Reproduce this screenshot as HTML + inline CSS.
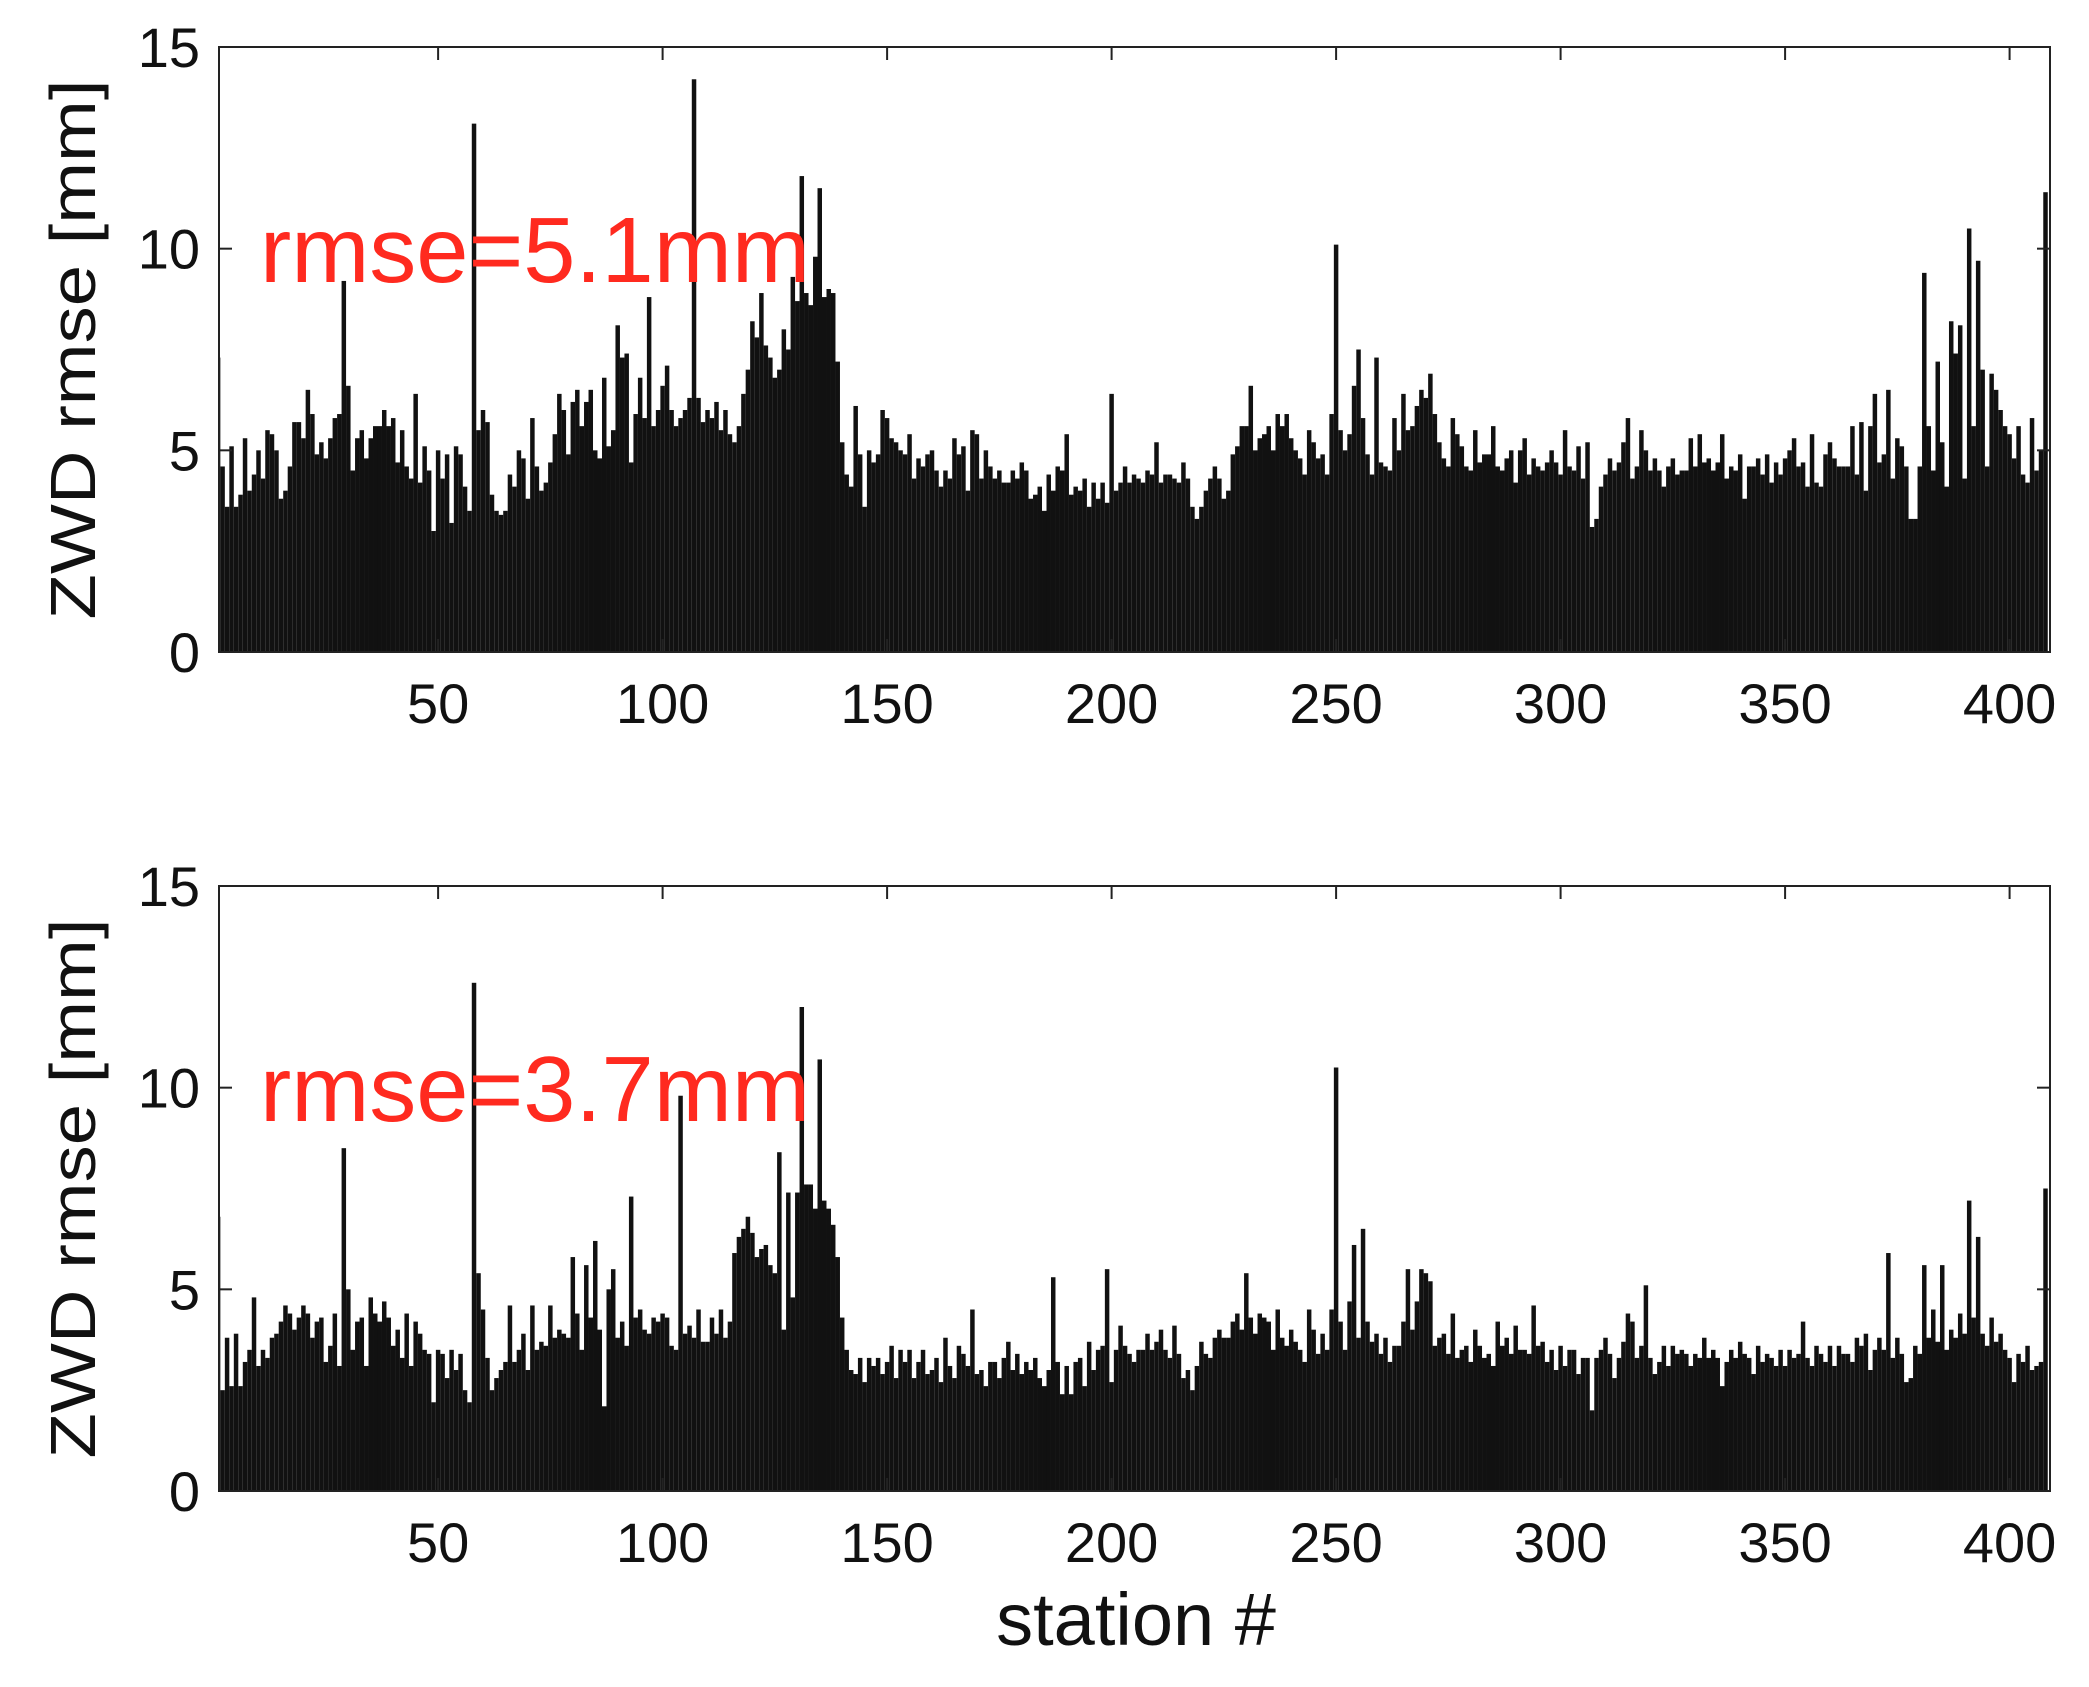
<!DOCTYPE html>
<html><head><meta charset="utf-8"><style>
html,body{margin:0;padding:0;background:#fff;}
svg{display:block;font-family:"Liberation Sans",sans-serif;}
</style></head><body>
<svg id="fig" width="2089" height="1687" viewBox="0 0 2089 1687" xmlns="http://www.w3.org/2000/svg">
<rect width="2089" height="1687" fill="#fff"/>
</svg>
<script>
const topValues=[7.3,4.6,3.6,5.1,3.6,3.9,5.3,4.0,4.4,5.0,
4.3,5.5,5.4,5.0,3.8,4.0,4.6,5.7,5.7,5.3,
6.5,5.9,4.9,5.2,4.8,5.3,5.8,5.9,9.2,6.6,
4.5,5.3,5.5,4.8,5.3,5.6,5.6,6.0,5.6,5.8,
4.7,5.5,4.6,4.3,6.4,4.2,5.1,4.5,3.0,5.0,
4.3,4.9,3.2,5.1,4.9,4.1,3.5,13.1,5.5,6.0,
5.7,3.9,3.5,3.4,3.5,4.4,4.1,5.0,4.8,3.8,
5.8,4.6,4.0,4.2,4.7,5.4,6.4,6.0,4.9,6.2,
6.5,5.6,6.2,6.5,5.0,4.8,6.8,5.1,5.5,8.1,
7.3,7.4,4.7,5.9,6.8,5.8,8.8,5.6,6.0,6.6,
7.1,6.0,5.6,5.8,6.0,6.3,14.2,6.3,5.7,6.0,
5.8,6.2,5.5,6.0,5.4,5.2,5.6,6.4,7.0,8.2,
7.8,8.9,7.6,7.3,6.8,7.0,8.0,7.5,9.3,8.7,
11.8,8.9,8.6,9.8,11.5,8.8,9.0,8.9,7.2,5.2,
4.4,4.1,6.1,4.9,3.6,5.0,4.7,4.9,6.0,5.8,
5.3,5.2,5.0,4.9,5.4,4.3,4.8,4.6,4.9,5.0,
4.5,4.1,4.5,4.3,5.3,4.9,5.1,4.0,5.5,5.4,
4.3,5.0,4.6,4.3,4.5,4.2,4.2,4.5,4.3,4.7,
4.5,3.8,3.9,4.1,3.5,4.4,4.0,4.6,4.5,5.4,
3.9,4.1,4.0,4.3,3.6,4.2,3.8,4.2,3.7,6.4,
4.0,4.2,4.6,4.2,4.4,4.3,4.2,4.5,4.4,5.2,
4.2,4.4,4.4,4.3,4.2,4.7,4.3,3.6,3.3,3.6,
4.0,4.3,4.6,4.3,3.8,4.0,4.9,5.1,5.6,5.6,
6.6,5.0,5.3,5.4,5.6,5.0,5.9,5.6,5.9,5.3,
5.0,4.8,4.4,5.5,5.2,4.8,4.9,4.4,5.9,10.1,
5.5,5.0,5.4,6.6,7.5,5.8,4.9,4.4,7.3,4.7,
4.6,4.5,5.8,5.0,6.4,5.5,5.6,6.1,6.5,6.3,
6.9,5.9,5.2,4.8,4.6,5.8,5.4,5.1,4.6,4.5,
5.5,4.7,4.9,4.9,5.6,4.6,4.5,4.8,5.0,4.2,
5.0,5.3,4.4,4.8,4.6,4.5,4.7,5.0,4.7,4.4,
5.5,4.6,4.5,5.1,4.3,5.2,3.1,3.3,4.1,4.4,
4.8,4.5,4.7,5.2,5.8,4.3,4.6,5.5,5.0,4.5,
4.8,4.5,4.1,4.6,4.8,4.4,4.5,4.5,5.3,4.6,
5.4,4.7,4.8,4.5,4.7,5.4,4.3,4.6,4.5,4.9,
3.8,4.6,4.6,4.8,4.4,4.9,4.2,4.7,4.4,4.8,
5.0,5.3,4.6,4.7,4.1,5.4,4.2,4.1,4.9,5.2,
4.8,4.6,4.6,4.6,5.6,4.4,5.7,4.0,5.6,6.4,
4.7,4.9,6.5,4.3,5.3,5.1,4.6,3.3,3.3,4.6,
9.4,5.6,4.5,7.2,5.2,4.1,8.2,7.4,8.1,4.3,
10.5,5.6,9.7,7.0,4.6,6.9,6.5,6.0,5.6,5.4,
4.8,5.6,4.4,4.2,5.8,4.5,5.0,11.4];
const bottomValues=[6.8,2.5,3.8,2.6,3.9,2.6,3.2,3.5,4.8,3.1,
3.5,3.3,3.8,3.9,4.2,4.6,4.4,4.0,4.3,4.6,
4.4,3.8,4.2,4.3,3.2,3.6,4.4,3.1,8.5,5.0,
3.5,4.2,4.3,3.1,4.8,4.4,4.2,4.7,4.3,3.6,
4.0,3.3,4.4,3.1,4.2,3.9,3.5,3.4,2.2,3.5,
3.4,2.8,3.5,3.0,3.4,2.5,2.2,12.6,5.4,4.5,
3.3,2.5,2.8,3.0,3.2,4.6,3.2,3.5,3.9,3.0,
4.6,3.5,3.7,3.6,4.6,3.8,4.0,3.9,3.8,5.8,
4.4,3.5,5.6,4.3,6.2,4.0,2.1,5.0,5.5,3.8,
4.2,3.6,7.3,4.3,4.5,4.0,3.9,4.3,4.2,4.4,
4.3,3.6,3.5,9.8,3.9,4.1,3.8,4.5,3.7,3.7,
4.3,3.9,4.5,3.8,4.2,5.9,6.3,6.5,6.8,6.4,
5.8,6.0,6.1,5.6,5.4,8.4,4.0,7.4,4.8,7.4,
12.0,7.6,7.6,7.0,10.7,7.2,7.0,6.6,5.8,4.3,
3.5,3.0,2.9,3.3,2.7,3.3,3.1,3.3,2.9,3.2,
3.6,2.8,3.5,3.2,3.5,2.8,3.2,3.5,2.9,3.0,
3.3,2.7,3.8,3.1,2.8,3.6,3.4,3.1,4.5,2.9,
3.0,2.6,3.2,3.2,2.8,3.3,3.7,3.0,3.4,2.9,
3.2,3.0,3.3,2.8,2.6,3.0,5.3,3.2,2.4,3.1,
2.4,3.2,3.3,2.6,3.7,3.0,3.5,3.6,5.5,2.7,
3.5,4.1,3.6,3.4,3.2,3.5,3.5,3.9,3.5,3.7,
4.0,3.5,3.3,4.1,3.4,2.8,3.0,2.5,3.1,3.7,
3.4,3.3,3.8,4.0,3.8,3.8,4.2,4.4,4.0,5.4,
4.3,3.9,4.4,4.3,4.2,3.5,4.5,3.8,3.6,4.0,
3.7,3.5,3.2,4.5,4.0,3.4,3.9,3.5,4.5,10.5,
4.2,3.5,4.7,6.1,3.8,6.5,4.2,3.7,3.9,3.4,
3.8,3.2,3.6,3.6,4.2,5.5,4.0,4.7,5.5,5.4,
5.2,3.6,3.8,3.9,3.4,4.4,3.3,3.5,3.6,3.2,
4.0,3.6,3.3,3.4,3.1,4.2,3.6,3.8,3.4,4.1,
3.5,3.5,3.4,4.6,3.6,3.7,3.2,3.5,3.0,3.6,
3.1,3.5,3.5,2.9,3.3,3.3,2.0,3.3,3.5,3.8,
3.4,2.8,3.3,3.7,4.4,4.2,3.3,3.6,5.1,3.3,
2.9,3.2,3.6,3.1,3.6,3.4,3.5,3.4,3.1,3.4,
3.3,3.8,3.3,3.5,3.3,2.6,3.2,3.5,3.3,3.7,
3.4,3.3,2.9,3.6,3.2,3.4,3.3,3.1,3.5,3.1,
3.5,3.3,3.4,4.2,3.3,3.1,3.6,3.4,3.2,3.6,
3.1,3.6,3.4,3.4,3.2,3.8,3.6,3.9,3.0,3.5,
3.8,3.5,5.9,3.3,3.8,3.4,2.7,2.8,3.6,3.4,
5.6,3.8,4.5,3.7,5.6,3.5,4.0,3.8,4.4,3.9,
7.2,4.3,6.3,3.9,3.6,4.3,3.7,3.9,3.5,3.3,
2.7,3.4,3.2,3.6,3.0,3.1,3.2,7.5];
const xTicks=[50,100,150,200,250,300,350,400];
const yTicks=[0,5,10,15];
const rmseLabels=["rmse=5.1mm","rmse=3.7mm"];

const NS="http://www.w3.org/2000/svg";
const svg=document.getElementById('fig');
const L=219,R=2050,XMIN=1.2,XMAX=409;
function xs(v){return L+(v-XMIN)/(XMAX-XMIN)*(R-L);}
function mk(tag,attrs,parent){const e=document.createElementNS(NS,tag);for(const k in attrs)e.setAttribute(k,attrs[k]);(parent||svg).appendChild(e);return e;}

function panel(values,top,bottom,label,idx,labelBaseline){
  const ys=v=>bottom-(v/15)*(bottom-top);
  const g=mk('g',{});
  
  
  const bars=mk('g',{fill:'#111'},g);
  
  
  const w=(R-L)/(XMAX-XMIN);
  values.forEach((v,i)=>{
    const cx=xs(i+1);
    let x0=Math.max(L,cx-w/2), x1=Math.min(R,cx+w/2);
    const r=mk('rect',{x:x0,y:ys(v),width:x1-x0,height:bottom-ys(v)},bars);
    
    
  });
  const frame=mk('rect',{x:L,y:top,width:R-L,height:bottom-top,fill:'none',stroke:'#222','stroke-width':2},g);
  
  
  xTicks.forEach(t=>{
    const x=xs(t);
    mk('line',{x1:x,x2:x,y1:top,y2:top+13,stroke:'#222','stroke-width':2},g);
    mk('line',{x1:x,x2:x,y1:bottom,y2:bottom-13,stroke:'#222','stroke-width':2},g);
    const tx=mk('text',{x:x,y:bottom+71,'font-size':56,'text-anchor':'middle',fill:'#111'},g);
    tx.textContent=t;
    
    
  });
  yTicks.forEach(t=>{
    const y=ys(t);
    mk('line',{x1:L,x2:L+13,y1:y,y2:y,stroke:'#222','stroke-width':2},g);
    mk('line',{x1:R,x2:R-13,y1:y,y2:y,stroke:'#222','stroke-width':2},g);
    const tx=mk('text',{x:200,y:y+20,'font-size':56,'text-anchor':'end',fill:'#111'},g);
    tx.textContent=t;
    
    
  });
  const cy=(top+bottom)/2;
  const yl=mk('text',{x:0,y:0,'font-size':64,'text-anchor':'middle',fill:'#111',transform:`translate(95,${cy}) rotate(-90)`,textLength:540,lengthAdjust:'spacingAndGlyphs'},g);
  yl.textContent='ZWD rmse [mm]';
  
  
  const an=mk('text',{x:260,y:labelBaseline,'font-size':93,fill:'#ff2a1f',textLength:550,lengthAdjust:'spacingAndGlyphs'},g);
  an.textContent=label;
  
  
}
panel(topValues,47,652,rmseLabels[0],0,282);
panel(bottomValues,886,1491,rmseLabels[1],1,1121);
const xt=mk('text',{x:1136,y:1645,'font-size':74,'text-anchor':'middle',fill:'#111'});
xt.textContent='station #';


</script>
</body></html>
